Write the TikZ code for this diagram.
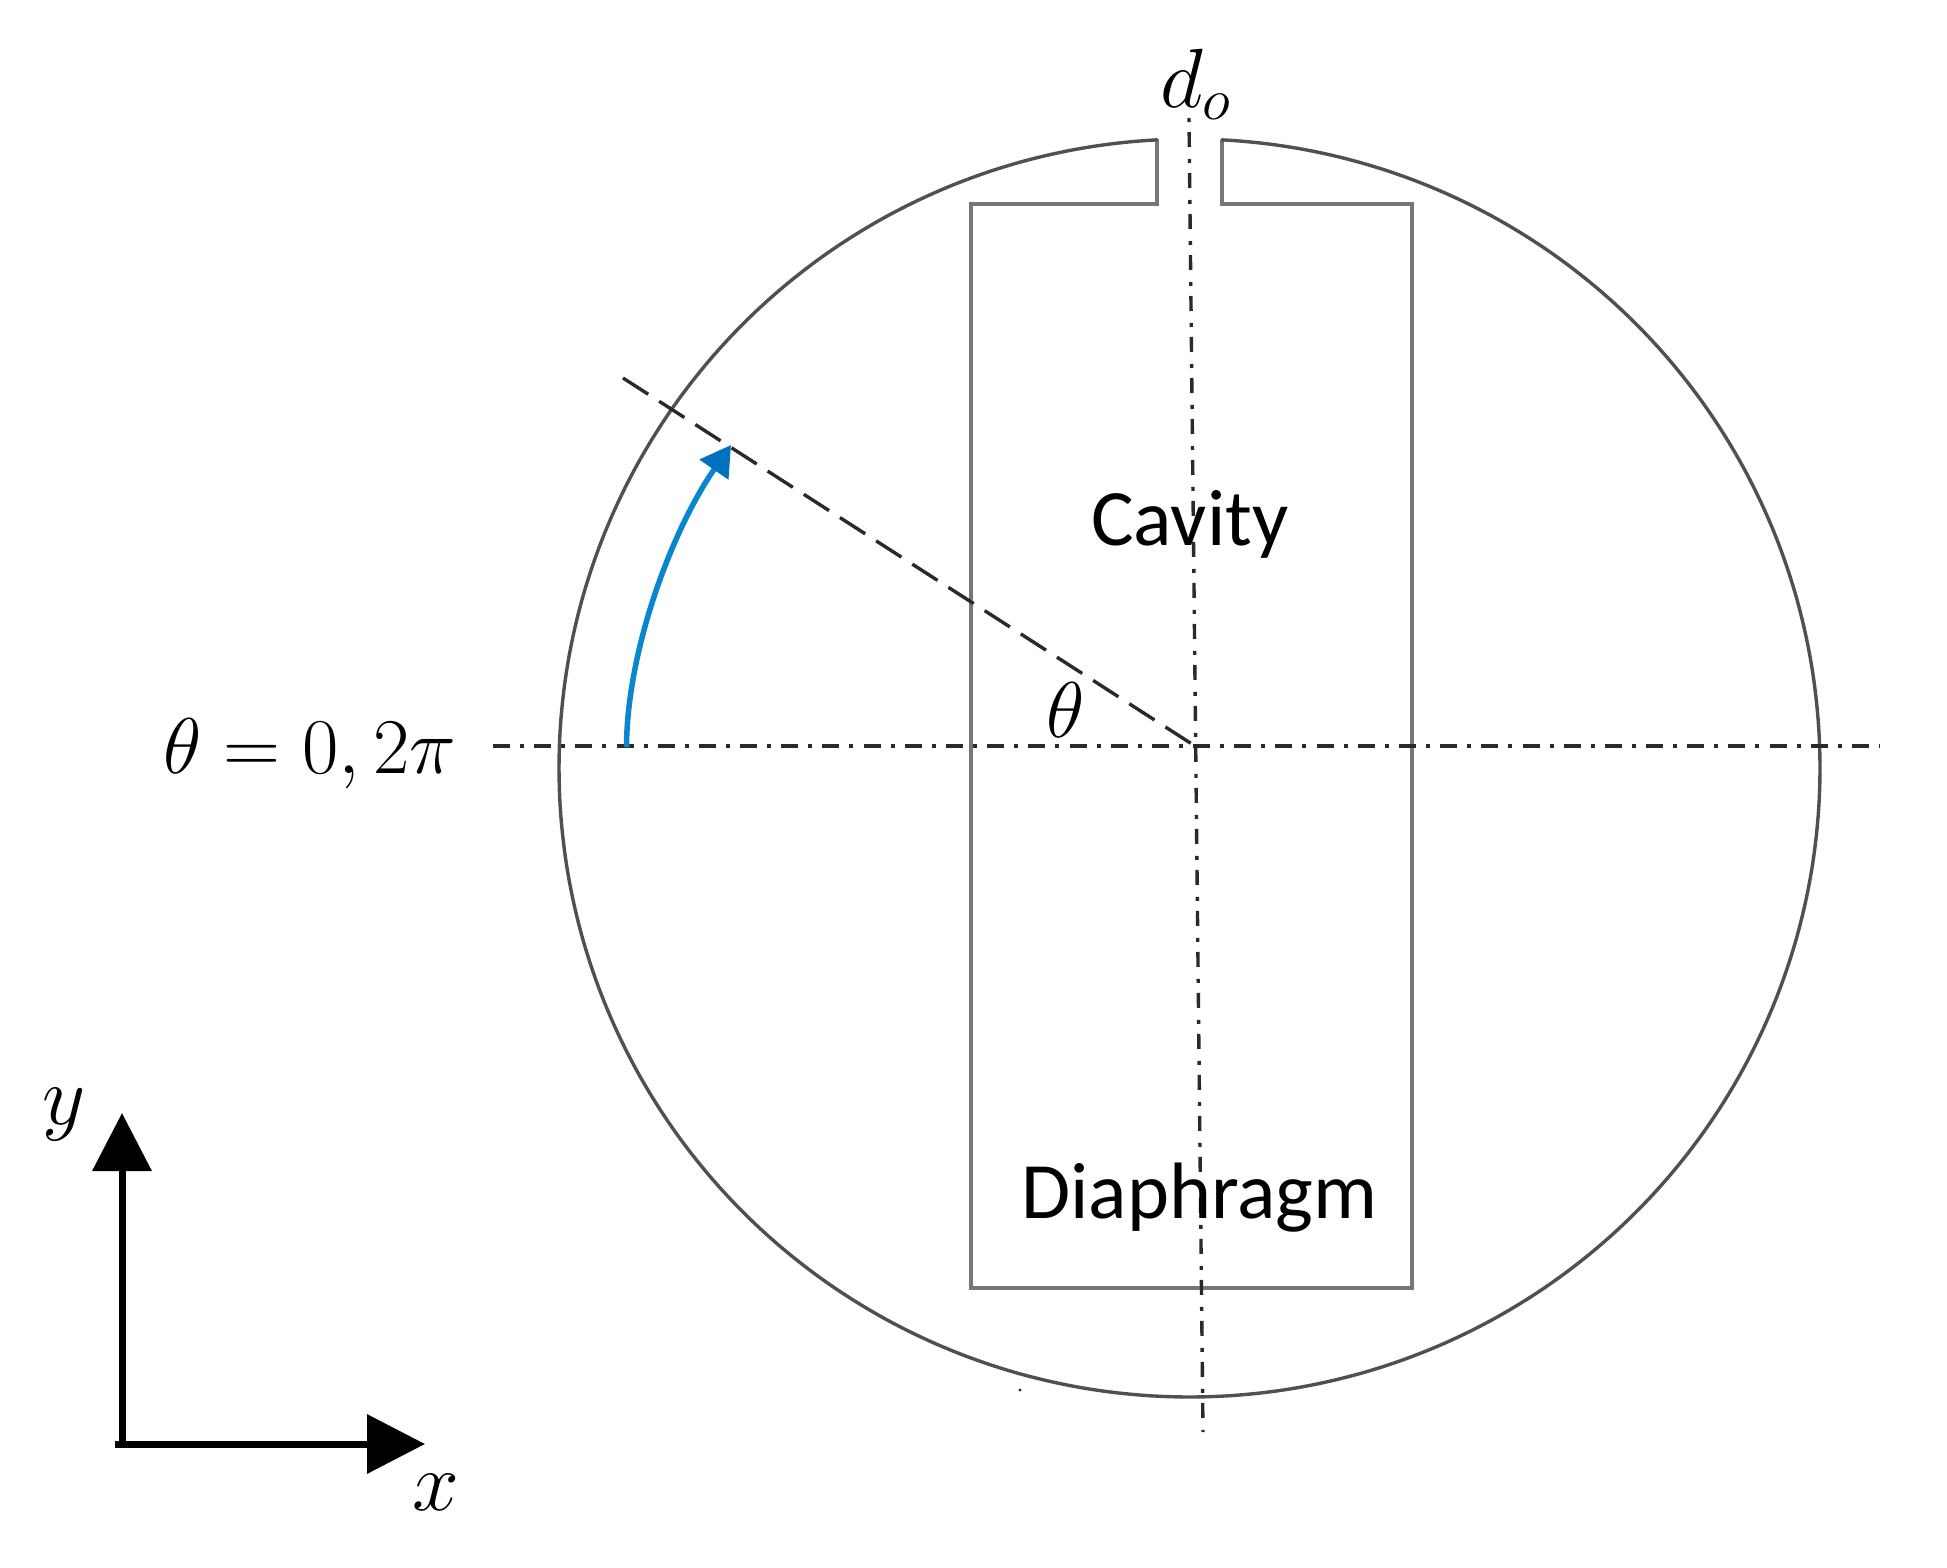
\RequirePackage{fix-cm}
\documentclass[tikz,border=0pt]{standalone}
\usepackage{amsmath}
\usepackage{fontspec}
\newfontfamily\labelfont{Carlito}
\usetikzlibrary{arrows.meta}
\definecolor{outline}{HTML}{505050}
\definecolor{cavline}{HTML}{777777}
\definecolor{axisline}{HTML}{2A2A2A}
\definecolor{bluearrow}{HTML}{0887CE}
\definecolor{bluehead}{HTML}{0070C0}
\tikzset{
  outer/.style={draw=outline,line width=3.4pt,line join=miter},
  cavwall/.style={draw=cavline,line width=3.8pt,line join=miter},
  centerline/.style={draw=axisline,line width=3.4pt},
  coordaxis/.style={draw=black,line width=7pt,-{Triangle[length=58pt,width=58pt]}},
  mathlabel/.style={inner sep=0pt,anchor=base west,font=\fontsize{79}{79}\selectfont},
  wordlabel/.style={inner sep=0pt,anchor=base west,font=\labelfont\fontsize{80}{80}\selectfont},
}
\begin{document}
\begin{tikzpicture}[x=1pt,y=-1pt]
\useasboundingbox[fill=white] (0,0) rectangle (1947,1567);
% named points
\coordinate (slotLT) at (1157,140);
\coordinate (slotLB) at (1157,204);
\coordinate (slotRT) at (1222,140);
\coordinate (slotRB) at (1222,204);
\coordinate (rectTL) at (971,204);
\coordinate (rectBL) at (971,1288);
\coordinate (rectBR) at (1412,1288);
\coordinate (rectTR) at (1412,204);
\coordinate (hA) at (493,746);
\coordinate (hB) at (1880,746);
\coordinate (vA) at (1189,118);
\coordinate (vB) at (1203,1432);
\coordinate (rA) at (623,378);
\coordinate (rB) at (1195,746);
\coordinate (bA) at (626.5,747);
\coordinate (bB) at (731,445);
\coordinate (origX) at (115,1444);
\coordinate (tipX) at (425,1444);
\coordinate (origY) at (122,1447);
\coordinate (tipY) at (122,1113);
% cavity and slot
\draw[cavwall] (slotLT) -- (slotLB) -- (rectTL) -- (rectBL) -- (rectBR) -- (rectTR) -- (slotRB) -- (slotRT);
% outer circle
\draw[outer,line cap=round] plot[domain=-87.05:267.05,samples=300,smooth] ({1189.5+630.5*cos(\x)},{768+629*sin(\x)});
% centre lines
\draw[centerline,dash pattern=on 17pt off 10pt on 4pt off 10.18pt] (hA) -- (hB);
\draw[centerline,dash pattern=on 4pt off 10pt on 15pt off 12pt] (vA) -- (vB);
\draw[centerline,dash pattern=on 30pt off 13pt] (rA) -- (rB);
% speck
\fill[axisline] (1020,1390) circle (1.6pt);
% blue angle arrow
\draw[bluearrow,line width=5.5pt,-{Triangle[length=30pt,width=34pt,color=bluehead]}]
  (bA) .. controls (627,650) and (672,530) .. (bB);
% coordinate axes
\draw[coordaxis] (origX) -- (tipX);
\draw[coordaxis] (origY) -- (tipY);
% labels
\node[mathlabel,font=\fontsize{84}{84}\selectfont] (lblD) at (1160,107) {$d_o$};
\node[mathlabel] (lblT0) at (163,773) {$\theta=0,2\pi$};
\node[mathlabel] (lblT) at (1046,737) {$\theta$};
\node[mathlabel,font=\fontsize{84}{84}\selectfont] (lblX) at (412,1510) {$x$};
\node[mathlabel,font=\fontsize{84}{84}\selectfont] (lblY) at (42,1124) {$y$};
\node[wordlabel] (lblC) at (1091,545) {Cavity};
\node[wordlabel] (lblG) at (1021,1218) {Diaphragm};
\end{tikzpicture}
\end{document}
